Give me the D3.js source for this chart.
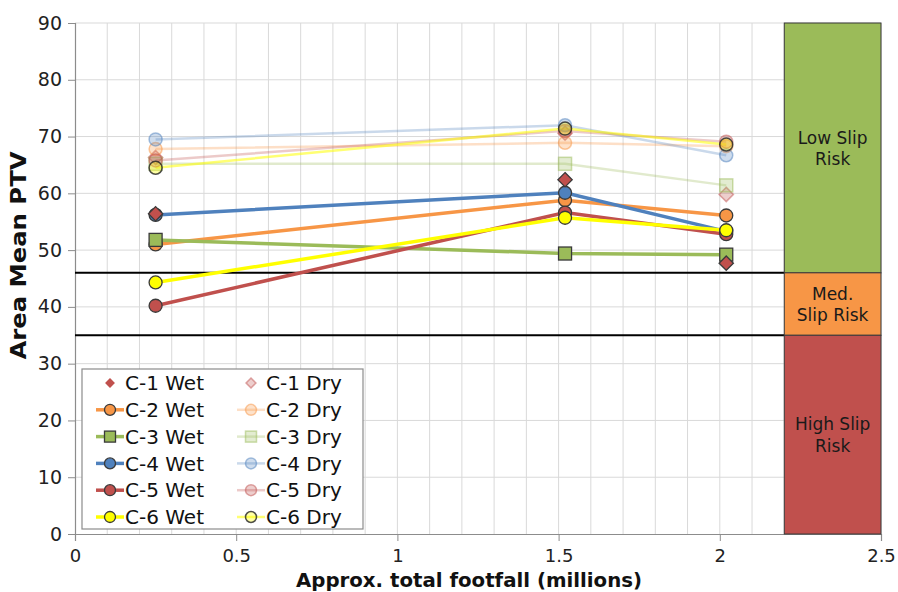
<!DOCTYPE html>
<html><head><meta charset="utf-8">
<script src="https://cdn.jsdelivr.net/npm/d3@7"></script>
<style>
body{margin:0;background:#fff;}
svg{display:block;}
text{font-family:"DejaVu Sans",Verdana,sans-serif;}
</style></head>
<body>
<svg id="c" width="898" height="592"></svg>
<script>
// ---- data ----
const footfall = [0.25, 1.52, 2.02];
const seriesNames = ["C-1 Wet","C-2 Wet","C-3 Wet","C-4 Wet","C-5 Wet","C-6 Wet",
                     "C-1 Dry","C-2 Dry","C-3 Dry","C-4 Dry","C-5 Dry","C-6 Dry"];
const c1Wet = [56.4, 62.4, 47.7];
const c2Wet = [51.0, 58.8, 56.1];
const c3Wet = [51.8, 49.4, 49.2];
const c4Wet = [56.2, 60.1, 53.3];
const c5Wet = [40.2, 56.6, 52.8];
const c6Wet = [44.3, 55.7, 53.5];
const c1Dry = [66.3, 70.6, 59.8];
const c2Dry = [67.8, 68.9, 68.3];
const c3Dry = [65.2, 65.2, 61.4];
const c4Dry = [69.5, 72.0, 66.7];
const c5Dry = [65.8, 71.0, 69.1];
const c6Dry = [64.5, 71.4, 68.6];
const xTicks = [0, 0.5, 1, 1.5, 2, 2.5];
const yTicks = [0, 10, 20, 30, 40, 50, 60, 70, 80, 90];
const thresholds = [46, 35];
const riskBands = [
  {lo: 46, hi: 90, label: ["Low Slip", "Risk"], color: "#9BBB59"},
  {lo: 35, hi: 46, label: ["Med.", "Slip Risk"], color: "#F79646"},
  {lo: 0,  hi: 35, label: ["High Slip", "Risk"], color: "#C0504D"}
];
const riskX = [2.2, 2.5];

// ---- styling per series ----
const RED="#C0504D", ORANGE="#F79646", GREEN="#9BBB59", BLUE="#4F81BD", YELLOW="#FFFF00";
const series = [
  {name: seriesNames[0], vals: c1Wet, color: RED, shape: "diamond", line: false, dry: false},
  {name: seriesNames[1], vals: c2Wet, color: ORANGE, shape: "circle", line: true, dry: false},
  {name: seriesNames[2], vals: c3Wet, color: GREEN, shape: "square", line: true, dry: false},
  {name: seriesNames[3], vals: c4Wet, color: BLUE, shape: "circle", line: true, dry: false},
  {name: seriesNames[4], vals: c5Wet, color: RED, shape: "circle", line: true, dry: false},
  {name: seriesNames[5], vals: c6Wet, color: YELLOW, shape: "circle", line: true, dry: false},
  {name: seriesNames[6], vals: c1Dry, color: RED, shape: "diamond", line: false, dry: true},
  {name: seriesNames[7], vals: c2Dry, color: ORANGE, shape: "circle", line: true, dry: true},
  {name: seriesNames[8], vals: c3Dry, color: GREEN, shape: "square", line: true, dry: true},
  {name: seriesNames[9], vals: c4Dry, color: BLUE, shape: "circle", line: true, dry: true},
  {name: seriesNames[10], vals: c5Dry, color: RED, shape: "circle", line: true, dry: true},
  {name: seriesNames[11], vals: c6Dry, color: YELLOW, shape: "circle", line: true, dry: true, darkEdge: true}
];

const svg = d3.select("#c");
const L = 75, R = 881, T = 23, B = 534;
const x = d3.scaleLinear().domain([0, 2.5]).range([L, R]);
const y = d3.scaleLinear().domain([0, 90]).range([B, T]);

// gridlines
const g = svg.append("g");
g.selectAll(".vg").data(d3.range(1, 26).map(i => i / 10)).join("line")
  .attr("x1", d => x(d)).attr("x2", d => x(d)).attr("y1", T).attr("y2", B)
  .attr("stroke", "#d9d9d9").attr("stroke-width", 1);
g.selectAll(".hg").data(yTicks.filter(d => d > 0)).join("line")
  .attr("x1", L).attr("x2", R).attr("y1", d => y(d)).attr("y2", d => y(d))
  .attr("stroke", "#d9d9d9").attr("stroke-width", 1);

// axes
const yAxis = svg.append("g").attr("transform", `translate(${L},0)`)
  .call(d3.axisLeft(y).tickValues(yTicks).tickSize(7).tickPadding(6).tickFormat(d3.format("d")));
const xAxis = svg.append("g").attr("transform", `translate(0,${B})`)
  .call(d3.axisBottom(x).tickValues(xTicks).tickSize(7).tickPadding(8).tickFormat(d => String(d)));
[yAxis, xAxis].forEach(a => {
  a.select(".domain").attr("stroke", "#8c8c8c").attr("stroke-width", 1.2);
  a.selectAll(".tick line").attr("stroke", "#8c8c8c");
  a.selectAll(".tick text").attr("fill", "#222").attr("font-size", 19);
});
xAxis.selectAll(".tick text").attr("font-size", 18).attr("font-family", "'DejaVu Sans Condensed','DejaVu Sans',sans-serif");

// threshold lines
svg.selectAll(".th").data(thresholds).join("line")
  .attr("x1", x(0)).attr("x2", x(riskX[0])).attr("y1", d => y(d)).attr("y2", d => y(d))
  .attr("stroke", "#000").attr("stroke-width", 2);

// risk bands
const rb = svg.append("g");
rb.selectAll("rect").data(riskBands).join("rect")
  .attr("x", x(riskX[0])).attr("width", x(riskX[1]) - x(riskX[0]))
  .attr("y", d => y(d.hi)).attr("height", d => y(d.lo) - y(d.hi))
  .attr("fill", d => d.color).attr("stroke", "#3a3a3a").attr("stroke-width", 1);
rb.selectAll("text").data(riskBands).join("text")
  .attr("x", (x(riskX[0]) + x(riskX[1])) / 2)
  .attr("y", d => y((d.lo + d.hi) / 2))
  .attr("text-anchor", "middle").attr("font-size", 17).attr("fill", "#1a1a1a")
  .each(function(d) {
    const t = d3.select(this);
    d.label.forEach((s, i) => t.append("tspan").attr("x", (x(riskX[0]) + x(riskX[1])) / 2)
      .attr("dy", i === 0 ? "-0.25em" : "1.25em").text(s));
  });

// marker helper
function drawMarker(sel, shape, size) {
  if (shape === "circle") return sel.append("circle").attr("r", size / 2);
  if (shape === "square") return sel.append("rect").attr("x", -size / 2).attr("y", -size / 2).attr("width", size).attr("height", size);
  const h = size * 0.55;
  return sel.append("path").attr("d", `M0,${-h}L${h},0L0,${h}L${-h},0Z`);
}
function styleMarker(m, s) {
  if (s.dry) {
    m.attr("fill", s.color).attr("fill-opacity", s.darkEdge ? 0.35 : 0.28)
     .attr("stroke", s.darkEdge ? "#222" : s.color).attr("stroke-opacity", s.darkEdge ? 0.8 : 0.5).attr("stroke-width", 1.5);
  } else {
    m.attr("fill", s.color).attr("stroke", "#3a3a3a").attr("stroke-width", 1.3);
  }
}

const line = d3.line().x((d, i) => x(footfall[i])).y(d => y(d));
const order = [6,7,8,9,10,11,1,2,3,4,5,0];
const plot = svg.append("g");
order.forEach(k => {
  const s = series[k];
  if (!s.line) return;
  plot.append("path").datum(s.vals).attr("d", line).attr("fill", "none")
    .attr("stroke", s.color).attr("stroke-width", s.dry ? 2.5 : 3.5)
    .attr("stroke-opacity", s.dry ? (s.darkEdge ? 0.55 : 0.3) : 1);
});
order.forEach(k => {
  const s = series[k];
  s.vals.forEach((v, i) => {
    const gg = plot.append("g").attr("transform", `translate(${x(footfall[i])},${y(v)})`);
    styleMarker(drawMarker(gg, s.shape, 13), s);
  });
});

// legend
const lg = svg.append("g");
lg.append("rect").attr("x", 82).attr("y", 369).attr("width", 281).attr("height", 160)
  .attr("fill", "#fff").attr("stroke", "#8c8c8c").attr("stroke-width", 1.2);
series.forEach((s, k) => {
  const col = k < 6 ? 0 : 1, row = k % 6;
  const cx = col === 0 ? 110 : 251, cy = 383 + row * 26.8;
  const it = lg.append("g").attr("transform", `translate(${cx},${cy})`);
  if (s.line) it.append("line").attr("x1", -14).attr("x2", 14)
    .attr("stroke", s.color).attr("stroke-width", s.dry ? 2.5 : 3.5)
    .attr("stroke-opacity", s.dry ? (s.darkEdge ? 0.55 : 0.3) : 1);
  styleMarker(drawMarker(it, s.shape, s.shape === "diamond" ? 9 : 11), s);
  if (s.shape === "diamond" && !s.dry) it.select("path").attr("stroke", "none");
  lg.append("text").attr("x", cx + 15).attr("y", cy).attr("dy", "0.36em")
    .attr("font-size", 20).attr("fill", "#111").text(s.name);
});

// axis titles
svg.append("text").attr("transform", `translate(26,${(T + B) / 2 - 23}) rotate(-90)`)
  .attr("text-anchor", "middle").attr("font-weight", "bold").attr("font-size", 21)
  .attr("textLength", 208).attr("lengthAdjust", "spacingAndGlyphs")
  .attr("fill", "#111").text("Area Mean PTV");
svg.append("text").attr("x", 469).attr("y", 587).attr("text-anchor", "middle")
  .attr("font-family", "'DejaVu Sans Condensed','DejaVu Sans',sans-serif")
  .attr("font-weight", "bold").attr("font-size", 19)
  .attr("textLength", 346).attr("lengthAdjust", "spacingAndGlyphs")
  .attr("fill", "#111")
  .text("Approx. total footfall (millions)");
</script>
</body></html>
